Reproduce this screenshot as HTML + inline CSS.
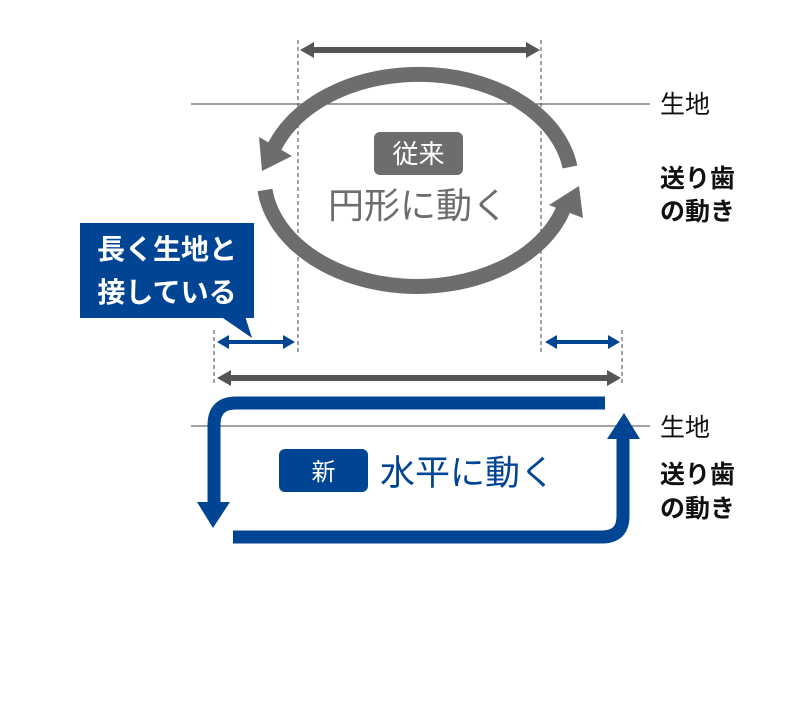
<!DOCTYPE html>
<html><head><meta charset="utf-8"><style>
html,body{margin:0;padding:0;background:#fff;}
svg text{font-family:"Liberation Sans","Noto Sans CJK JP",sans-serif;}
</style></head><body>
<svg width="802" height="711" viewBox="0 0 802 711" xmlns="http://www.w3.org/2000/svg">
<g stroke="#444" stroke-width="1" stroke-dasharray="4,3">
<line x1="298" y1="40" x2="298" y2="355"/>
<line x1="541" y1="40" x2="541" y2="355"/>
<line x1="214" y1="330" x2="214" y2="386"/>
<line x1="622" y1="330" x2="622" y2="386"/>
</g>
<line x1="191" y1="104" x2="650" y2="104" stroke="#444" stroke-width="1"/>
<line x1="191" y1="426" x2="650" y2="426" stroke="#444" stroke-width="1"/>
<line x1="310" y1="50" x2="530" y2="50" stroke="#555" stroke-width="6"/>
<polygon points="300,50 314,42 314,58" fill="#555"/>
<polygon points="540,50 526,42 526,58" fill="#555"/>
<path d="M570,167 A153,109 0 0 0 274,148" fill="none" stroke="#6d6d6d" stroke-width="15"/>
<polygon points="262,171 259,137 292,156" fill="#6d6d6d"/>
<path d="M265,190 A153,109 0 0 0 563,210" fill="none" stroke="#6d6d6d" stroke-width="15"/>
<polygon points="579,186 549,205 583,218" fill="#6d6d6d"/>
<rect x="374" y="132" width="89" height="43" rx="6" fill="#6d6d6d"/>
<text x="418.5" y="163" font-size="26" fill="#fff" text-anchor="middle">従来</text>
<text x="418" y="218" font-size="36" fill="#6d6d6d" text-anchor="middle">円形に動く</text>
<rect x="80" y="223" width="174" height="95" fill="#004494"/>
<polygon points="220,316 252,338 245,316" fill="#004494"/>
<text x="167" y="259" font-size="28" font-weight="bold" fill="#fff" text-anchor="middle">長く生地と</text>
<text x="167" y="302" font-size="28" font-weight="bold" fill="#fff" text-anchor="middle">接している</text>
<g fill="#004494">
<line x1="226" y1="342" x2="284" y2="342" stroke="#004494" stroke-width="4"/>
<polygon points="217,342 229,335 229,349"/>
<polygon points="295,342 283,335 283,349"/>
<line x1="554" y1="342" x2="610" y2="342" stroke="#004494" stroke-width="4"/>
<polygon points="545,342 557,335 557,349"/>
<polygon points="620,342 608,335 608,349"/>
</g>
<line x1="228" y1="378" x2="610" y2="378" stroke="#555" stroke-width="6"/>
<polygon points="217,378 231,370 231,386" fill="#555"/>
<polygon points="621,378 607,370 607,386" fill="#555"/>
<path d="M605,403 L236,403 Q214,403 214,425 L214,505" fill="none" stroke="#004494" stroke-width="13"/>
<polygon points="213,528 197,502 230,502" fill="#004494"/>
<path d="M233,537 L602,537 Q623,537 623,516 L623,436" fill="none" stroke="#004494" stroke-width="13"/>
<polygon points="624,413 607,439 640,439" fill="#004494"/>
<rect x="279" y="449" width="89" height="43" rx="6" fill="#004494"/>
<text x="323.5" y="480" font-size="24" fill="#fff" text-anchor="middle">新</text>
<text x="380" y="485" font-size="35" fill="#004494">水平に動く</text>
<g font-size="25" fill="#111">
<text x="660" y="113">生地</text>
<text x="660" y="187" font-weight="bold">送り歯</text>
<text x="660" y="220" font-weight="bold">の動き</text>
<text x="660" y="436">生地</text>
<text x="660" y="483" font-weight="bold">送り歯</text>
<text x="660" y="517" font-weight="bold">の動き</text>
</g>
</svg>
</body></html>
